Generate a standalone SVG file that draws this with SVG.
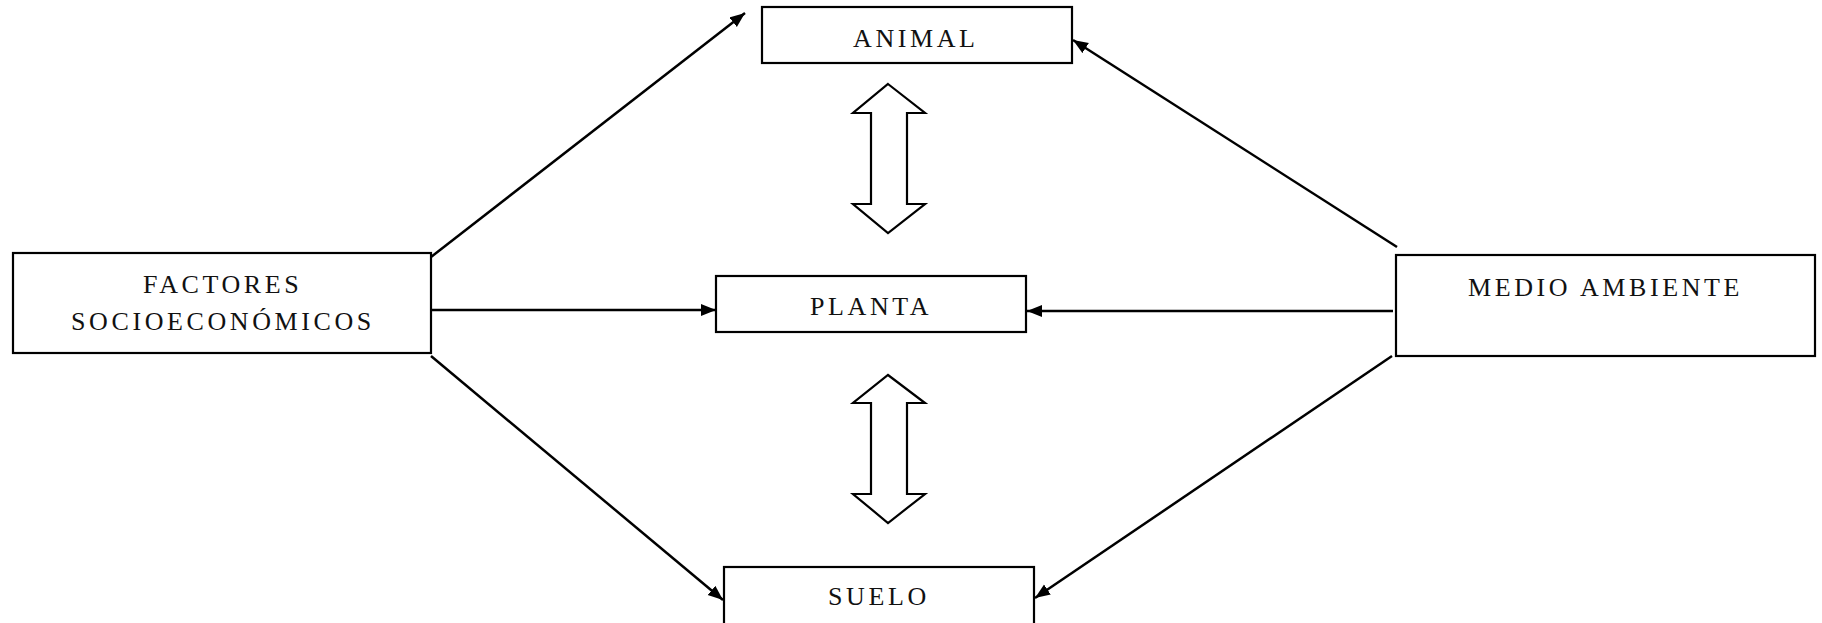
<svg xmlns="http://www.w3.org/2000/svg" width="1822" height="623" viewBox="0 0 1822 623">
<style>
.box{fill:#fff;stroke:#000;stroke-width:2.2}
.lbl{font-family:"Liberation Serif","Times New Roman",serif;font-size:26px;letter-spacing:3.6px;fill:#111}
.con{stroke:#000;stroke-width:2.5;fill:none;marker-end:url(#ah)}
.dbl{fill:#fff;stroke:#000;stroke-width:2.2;stroke-linejoin:miter}
</style>
<defs>
<marker id="ah" markerUnits="userSpaceOnUse" markerWidth="18" markerHeight="14" refX="15" refY="6" orient="auto">
<path d="M0,0 L15,6 L0,12 z" fill="#000"/>
</marker>
</defs>
<rect width="1822" height="623" fill="#fff"/>
<g id="connectors">
<line class="con" x1="431" y1="257" x2="745" y2="13"/>
<line class="con" x1="1397" y1="247" x2="1073" y2="40"/>
<line class="con" x1="431" y1="310" x2="716" y2="310"/>
<line class="con" x1="1393" y1="311" x2="1027" y2="311"/>
<line class="con" x1="431" y1="356" x2="723" y2="600"/>
<line class="con" x1="1392" y1="356" x2="1035" y2="598"/>
<polygon class="dbl" points="888,84 925,113 907,113 907,204 925,204 888,233 853,204 871,204 871,113 853,113"/>
<polygon class="dbl" points="888,375 925,403 907,403 907,494 925,494 888,523 853,494 871,494 871,403 853,403"/>
</g>
<g id="animal">
<rect class="box" x="762" y="7" width="310" height="56"/>
<text class="lbl" x="853" y="47">ANIMAL</text>
</g>
<g id="factores">
<rect class="box" x="13" y="253" width="418" height="100"/>
<text class="lbl" x="143" y="293">FACTORES</text>
<text class="lbl" x="71" y="330">SOCIOECONÓMICOS</text>
</g>
<g id="planta">
<rect class="box" x="716" y="276" width="310" height="56"/>
<text class="lbl" x="810" y="315">PLANTA</text>
</g>
<g id="medio">
<rect class="box" x="1396" y="255" width="419" height="101"/>
<text class="lbl" x="1468" y="296">MEDIO AMBIENTE</text>
</g>
<g id="suelo">
<rect class="box" x="724" y="567" width="310" height="60"/>
<text class="lbl" x="828" y="605">SUELO</text>
</g>
</svg>
